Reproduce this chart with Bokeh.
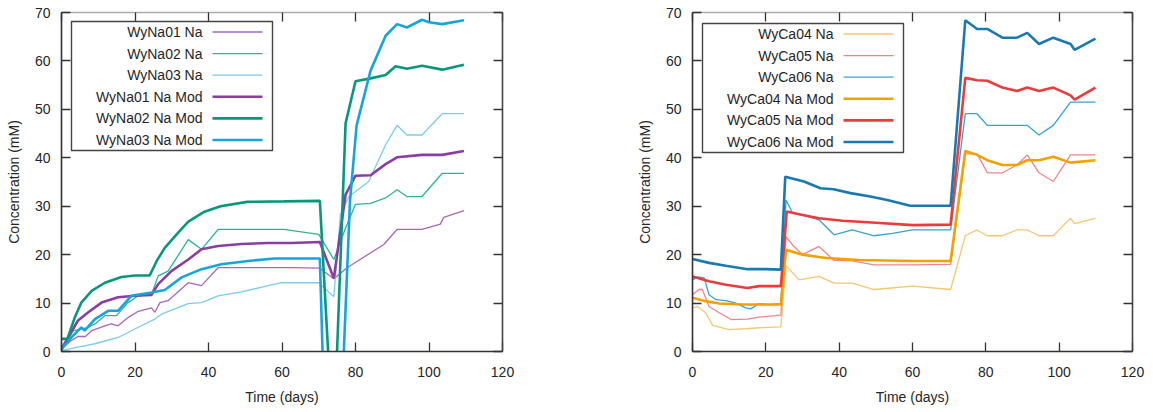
from bokeh.plotting import figure
from bokeh.layouts import row
from bokeh.models import Range1d, LinearAxis, FixedTicker, BoxAnnotation, Label, Arrow
from bokeh.embed import file_html
from bokeh.resources import INLINE

# ---------------- Left panel data (WyNa) ----------------
na01_day = [0, 2.7, 4.5, 6.5, 8.2, 11.8, 13.5, 15.4, 18.1, 20.9, 24.5, 25.4, 26.8, 29, 34.5, 38.1, 42.6,
            62.6, 70.3, 74.1, 77.7, 87.7, 91.3, 98.1, 103.1, 104, 109.5]
na01_val = [0.5, 2.3, 3.1, 3.1, 4.3, 5.3, 5.7, 5.3, 7.0, 8.3, 9.0, 8.1, 10.1, 10.5, 14.2, 13.6, 17.3,
            17.3, 17.2, 15.0, 17.3, 22.1, 25.2, 25.2, 26.3, 27.7, 29.1]

na02_day = [0, 1.4, 3.2, 5.4, 7.3, 9.1, 11.8, 15, 18.1, 20.9, 24.5, 26.3, 29, 34.5, 38.1, 42.6,
            60.5, 70, 74.1, 77.3, 80, 84.1, 88.2, 91.3, 94, 98.1, 103.6, 109.5]
na02_val = [0.2, 1.9, 4.3, 4.6, 5.0, 5.7, 7.4, 7.4, 10.1, 11.5, 11.8, 15.6, 16.6, 23.1, 21.1, 25.2,
            25.2, 24.2, 19.0, 25.5, 30.4, 30.6, 31.7, 33.4, 32.0, 32.0, 36.8, 36.8]

na03_day = [0, 4.5, 9.1, 15.4, 20.9, 25.4, 27.2, 34.5, 38.1, 42.6, 49, 56.2, 59.9, 70, 74.1, 75.9,
            78.2, 83.6, 88.2, 91.3, 94, 98.1, 103.6, 109.5]
na03_val = [0.2, 0.9, 1.6, 2.9, 5.0, 6.7, 7.7, 9.9, 10.1, 11.5, 12.3, 13.6, 14.2, 14.2, 11.3, 28.3,
            32.0, 35.1, 42.7, 46.7, 44.7, 44.7, 49.1, 49.1]

na01m_day = [0, 1.8, 4.5, 7.3, 10.9, 15.4, 20, 24.5, 26.3, 29.9, 34.5, 38.1, 42.6, 49, 56.2, 62.6,
             70.3, 74.1, 77.3, 80, 84.1, 88.2, 91.3, 98.1, 103.6, 109.5]
na01m_val = [0.5, 2.9, 6.4, 8.1, 10.1, 11.2, 11.5, 11.7, 13.9, 16.6, 19.0, 21.1, 21.8, 22.2, 22.4, 22.4,
             22.6, 15.1, 32.4, 36.3, 36.4, 38.7, 40.1, 40.6, 40.6, 41.4]

na02m_day = [0, 1.6, 3.6, 5.4, 8.2, 11.8, 16.3, 20, 24, 25.9, 28.1, 31.7, 34.5, 38.7, 43.3, 50.5,
             60.5, 70.3, 74, 77.3, 80, 84.1, 88.2, 90.9, 94, 98.1, 103.6, 109.5]
na02m_val = [2.6, 2.6, 7.0, 10.1, 12.5, 14.2, 15.4, 15.7, 15.7, 18.7, 21.4, 24.5, 26.8, 28.8, 30.0, 30.9,
             31.0, 31.1, -20, 47.1, 55.8, 56.4, 57.1, 58.9, 58.4, 59.0, 58.2, 59.2]

na03m_day = [0, 2.7, 5.4, 6.3, 9.1, 12.7, 15.4, 19, 24.5, 28.1, 32.7, 38.1, 43.5, 50.8, 58, 70.3,
             72, 76, 78.5, 80.3, 84.1, 88.2, 91.3, 94, 98.1, 100, 103.6, 109.5]
na03m_val = [0.5, 2.9, 5.0, 4.3, 6.7, 8.4, 8.4, 11.5, 12.2, 12.7, 15.3, 17.0, 18.0, 18.7, 19.2, 19.2,
             -25, -15, 31.0, 46.7, 58.0, 65.2, 67.6, 66.9, 68.5, 68.0, 67.6, 68.4]

# ---------------- Right panel data (WyCa) ----------------
ca04_day = [0, 1.4, 3.6, 5.5, 10, 14.5, 18.2, 24.1, 25.5, 29.1, 34.5, 38.6, 43.6, 49.5, 60, 70.4,
            74.4, 77.6, 80.4, 84.5, 88.5, 91.3, 94.5, 98.4, 103.1, 104.2, 109.9]
ca04_val = [9.0, 9.3, 8.0, 5.4, 4.5, 4.7, 4.9, 5.1, 17.7, 14.8, 15.5, 14.1, 14.1, 12.8, 13.5, 12.8,
            23.9, 25.1, 23.9, 23.9, 25.1, 25.1, 23.9, 23.9, 27.5, 26.4, 27.5]

ca05_day = [0, 1.8, 2.7, 4.5, 7.3, 10.5, 15, 18.2, 24.1, 25.5, 27.3, 30, 34.5, 38.6, 43.6, 49.5, 60,
            70.4, 74.4, 77.6, 80.4, 84.5, 88.5, 91.3, 94.5, 98.4, 103.1, 109.9]
ca05_val = [11.7, 12.8, 12.8, 9.3, 8.0, 6.6, 6.7, 7.1, 7.5, 23.7, 22.0, 20.0, 21.7, 18.8, 18.7, 17.9, 17.9,
            18.0, 40.8, 40.8, 36.9, 36.9, 38.5, 40.6, 36.9, 35.1, 40.6, 40.6]

ca06_day = [0, 1.4, 3.2, 4.5, 6.4, 9.1, 11.8, 14.5, 15.9, 18.2, 20.9, 24.1, 25.5, 27.3, 30, 34.5, 38.6,
            43.6, 49.5, 54.5, 60, 70.4, 74.4, 77.6, 80.4, 91.3, 94.5, 98.4, 103.1, 109.9]
ca06_val = [14.8, 15.4, 15.2, 11.7, 10.7, 10.5, 10.0, 9.0, 8.8, 9.9, 9.7, 9.9, 31.3, 28.6, 28.2, 27.2, 24.1,
            25.1, 23.9, 24.4, 25.1, 25.1, 49.1, 49.1, 46.7, 46.7, 44.7, 46.7, 51.5, 51.5]

ca04m_day = [0, 3.6, 7.3, 13.6, 24.1, 25.5, 30, 36.4, 45.5, 60, 70.4, 74.4, 77.6, 80.4, 84.5, 88.5,
             91.3, 94.5, 98.4, 103.1, 109.9]
ca04m_val = [11.1, 10.4, 9.9, 9.7, 9.7, 21.0, 20.0, 19.3, 18.9, 18.7, 18.7, 41.4, 40.6, 39.5, 38.5, 38.5,
             39.5, 39.5, 40.2, 39.0, 39.5]

ca05m_day = [0, 4.5, 9.1, 15, 18.2, 24.1, 25.7, 30, 34.5, 40.9, 50, 60, 70.4, 74.4, 77.6, 80.4, 84.5,
             88.5, 91.3, 94.5, 98.4, 103.1, 104.2, 109.9]
ca05m_val = [15.5, 14.5, 13.8, 13.1, 13.5, 13.5, 28.9, 28.2, 27.5, 27.0, 26.6, 26.1, 26.2, 56.5, 56.0, 55.9, 54.5,
             53.8, 54.5, 53.8, 54.5, 52.9, 52.0, 54.5]

ca06m_day = [0, 4.5, 9.1, 15, 20, 24.1, 25.3, 30.4, 34.9, 38.5, 43.1, 48.5, 53.1, 59.4, 70.4, 74.4, 77.6,
             80.4, 84.5, 88.5, 91.3, 94.5, 98.4, 103.1, 104.2, 109.9]
ca06m_val = [19.1, 18.3, 17.7, 17.0, 17.0, 16.9, 36.1, 35.1, 33.7, 33.5, 32.7, 32.0, 31.3, 30.1, 30.1, 68.4, 66.6,
             66.6, 64.8, 64.8, 65.8, 63.5, 64.8, 63.5, 62.3, 64.6]

left_names = ["WyNa01 Na", "WyNa02 Na", "WyNa03 Na", "WyNa01 Na Mod", "WyNa02 Na Mod", "WyNa03 Na Mod"]
right_names = ["WyCa04 Na", "WyCa05 Na", "WyCa06 Na", "WyCa04 Na Mod", "WyCa05 Na Mod", "WyCa06 Na Mod"]

x_ticks = [0, 20, 40, 60, 80, 100, 120]
y_ticks = [0, 10, 20, 30, 40, 50, 60, 70]

FONT = "Liberation Sans"
TXT = "#262626"
HEIGHT = 412
BOTTOM = 61


def make_fig(width, bl, br, bt):
    p = figure(width=width, height=HEIGHT, x_range=Range1d(0, 120), y_range=Range1d(0, 70),
               output_backend="svg", toolbar_location=None,
               min_border_left=bl, min_border_right=br, min_border_top=bt, min_border_bottom=BOTTOM,
               x_axis_label="Time (days)", y_axis_label="Concentration (mM)")
    p.grid.visible = False
    p.outline_line_color = None
    p.background_fill_color = "white"
    p.border_fill_color = "white"
    p.xaxis.ticker = FixedTicker(ticks=x_ticks)
    p.yaxis.ticker = FixedTicker(ticks=y_ticks)
    for ax in p.xaxis + p.yaxis:
        ax.major_tick_in = 9
        ax.major_tick_out = 0
        ax.minor_tick_line_color = None
        ax.axis_line_color = "#333333"
        ax.axis_line_width = 1.6
        ax.major_tick_line_color = "#333333"
        ax.major_tick_line_width = 1.3
        ax.major_label_text_font = FONT
        ax.major_label_text_font_size = "14px"
        ax.major_label_text_color = TXT
        ax.axis_label_text_font = FONT
        ax.axis_label_text_font_size = "14px"
        ax.axis_label_text_font_style = "normal"
        ax.axis_label_text_color = TXT
    p.xaxis.major_label_standoff = 15
    p.xaxis.axis_label_standoff = 9
    p.yaxis.major_label_standoff = 11
    p.yaxis.axis_label_standoff = 10
    top = LinearAxis(ticker=FixedTicker(ticks=x_ticks), major_tick_in=9, major_tick_out=0,
                     major_label_text_color=None, major_label_standoff=0,
                     minor_tick_line_color=None, axis_line_color="#aaaaaa", axis_line_width=1.3,
                     major_tick_line_color="#333333", major_tick_line_width=1.3)
    right = LinearAxis(ticker=FixedTicker(ticks=y_ticks), major_tick_in=9, major_tick_out=0,
                       major_label_text_color=None, major_label_standoff=0,
                       minor_tick_line_color=None, axis_line_color="#444444", axis_line_width=1.6,
                       major_tick_line_color="#333333", major_tick_line_width=1.3)
    p.add_layout(top, "above")
    p.add_layout(right, "right")
    return p


def add_key(p, bt, names, colors, widths):
    """gnuplot-style key: right-aligned labels with the line sample to their right."""
    H = HEIGHT - bt - BOTTOM  # frame height in px
    p.add_layout(BoxAnnotation(left=10, right=211, top=H - 11, bottom=H - 140,
                               left_units="screen", right_units="screen",
                               top_units="screen", bottom_units="screen",
                               fill_color="white", fill_alpha=1.0,
                               line_color="#444444", line_width=1.4, line_alpha=1.0))
    for i, (name, c, w) in enumerate(zip(names, colors, widths)):
        ys = H - (21.5 + 21.6 * i)
        p.add_layout(Label(x=141, y=ys, x_units="screen", y_units="screen", text=name,
                           text_align="right", text_baseline="middle",
                           text_font=FONT, text_font_size="14px", text_color=TXT))
        p.add_layout(Arrow(x_start=151, y_start=ys, x_end=201, y_end=ys,
                           start_units="screen", end_units="screen",
                           start=None, end=None, line_color=c, line_width=w))


THIN = 1.3
THICK = 2.6

left_colors = ["#a767bf", "#2cb597", "#7ccbee", "#8a3ea3", "#08977a", "#16a4dc"]
right_colors = ["#f8c572", "#f08585", "#36a3d3", "#f4a100", "#ec3b3b", "#1a78b2"]
widths = [THIN, THIN, THIN, THICK, THICK, THICK]

p1 = make_fig(600, 61, 98, 10)
left_series = [(na01_day, na01_val), (na02_day, na02_val), (na03_day, na03_val),
               (na01m_day, na01m_val), (na02m_day, na02m_val), (na03m_day, na03m_val)]
for (d, v), c, w, n in zip(left_series, left_colors, widths, left_names):
    p1.line(d, v, color=c, line_width=w, name=n)
add_key(p1, 10, left_names, left_colors, widths)

p2 = make_fig(553, 92, 21, 12)
right_series = [(ca04_day, ca04_val), (ca05_day, ca05_val), (ca06_day, ca06_val),
                (ca04m_day, ca04m_val), (ca05m_day, ca05m_val), (ca06m_day, ca06m_val)]
for (d, v), c, w, n in zip(right_series, right_colors, widths, right_names):
    p2.line(d, v, color=c, line_width=w, name=n)
add_key(p2, 12, right_names, right_colors, widths)

layout = row(p1, p2)
open("out.html", "w").write(file_html(layout, INLINE))
